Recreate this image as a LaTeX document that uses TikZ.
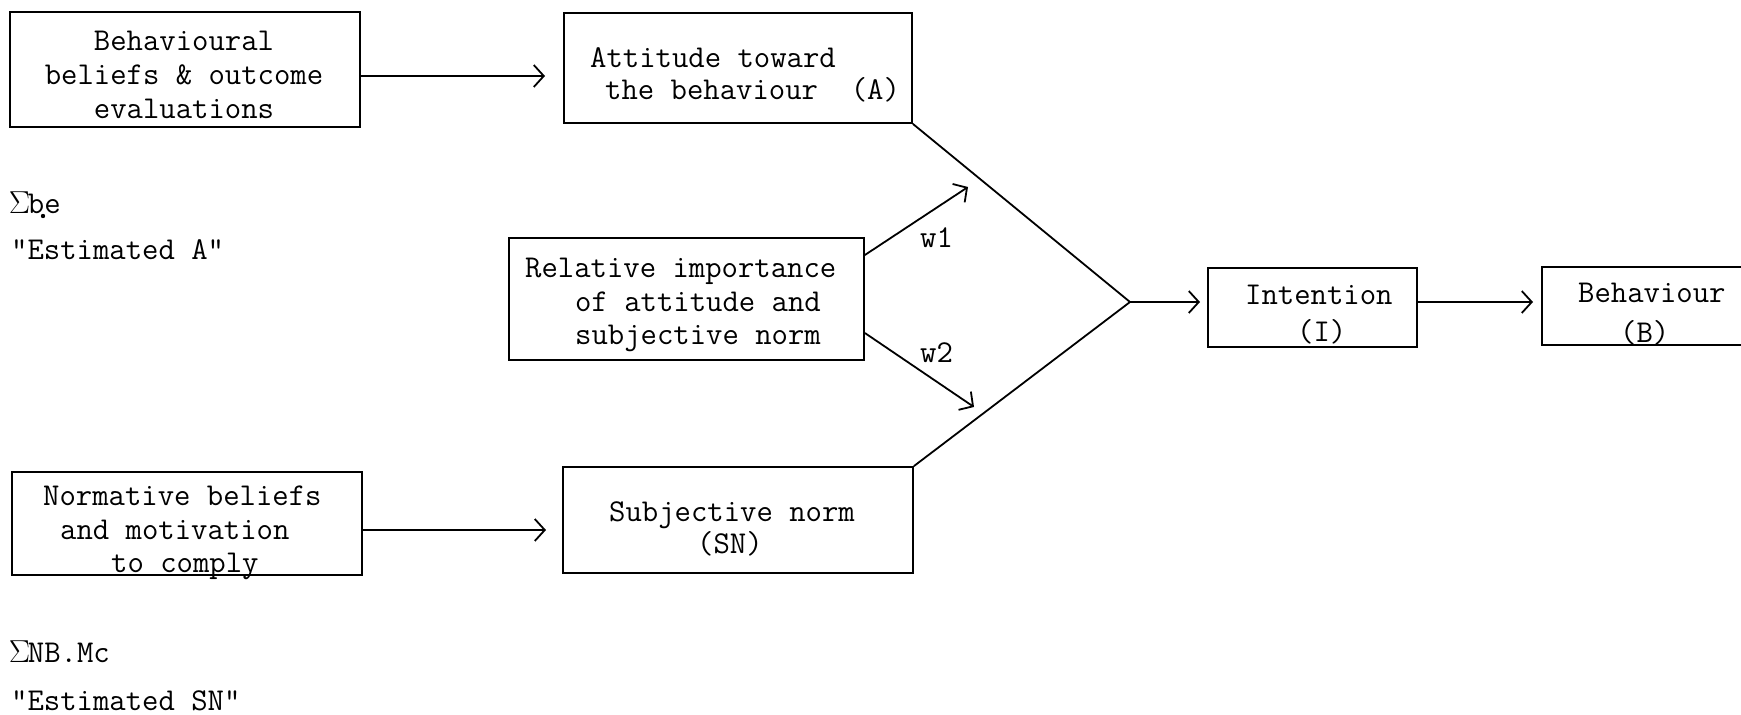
\RequirePackage{fix-cm}
\documentclass[tikz,border=0pt]{standalone}
\usetikzlibrary{arrows.meta}
\begin{document}
\begin{tikzpicture}[x=1pt,y=-1pt,
  box/.style={draw,line width=1.8pt,inner sep=0pt},
  txt/.style={font=\fontsize{31.8}{30}\selectfont\ttfamily,inner sep=0pt,anchor=base west},
  ctxt/.style={txt,anchor=base},
  conn/.style={line width=1.8pt},
  arr/.style={conn,-{Straight Barb[length=10pt,width=22pt]}}]
\useasboundingbox (0,0) rectangle (1741,715);
\clip (0,0) rectangle (1741,715);
% boxes
\node[box,minimum width=350pt,minimum height=115pt] (bb) at (185,69.5) {};
\node[box,minimum width=348pt,minimum height=110pt] (a) at (738,68) {};
\node[box,minimum width=355pt,minimum height=122pt] (rel) at (686.5,299) {};
\node[box,minimum width=350pt,minimum height=103pt] (nb) at (187,523.5) {};
\node[box,minimum width=350pt,minimum height=106pt] (sn) at (738,520) {};
\node[box,minimum width=209pt,minimum height=79pt] (int) at (1312.5,307.5) {};
\node[box,minimum width=228pt,minimum height=78pt] (beh) at (1656,306) {};
% texts in boxes
\node[ctxt] (bb1) at (184,50) {Behavioural};
\node[ctxt] (bb2) at (184,84) {beliefs \& outcome};
\node[ctxt] (bb3) at (184,118) {evaluations};
\node[txt] (a1) at (590,67) {Attitude toward};
\node[txt] (a2) at (605,99) {the behaviour\ \ (A)};
\node[txt] (rel1) at (525,277) {Relative importance};
\node[txt] (rel2) at (575,311) {of attitude and};
\node[txt] (rel3) at (575,344) {subjective norm};
\node[txt] (nb1) at (43,505) {Normative beliefs};
\node[txt] (nb2) at (60,539) {and motivation};
\node[txt] (nb3) at (111,572) {to comply};
\node[txt] (sn1) at (609,521) {Subjective norm};
\node[txt] (sn2) at (697,553) {(SN)};
\node[txt] (int1) at (1245,304) {Intention};
\node[txt] (int2) at (1297,341) {(I)};
\node[txt] (beh1) at (1578,302) {Behaviour};
\node[txt] (beh2) at (1620,342) {(B)};
% side texts
\node[txt] (sbe) at (11,213) {\makebox[0.525em]{$\Sigma$}be};
\fill ([xshift=32pt,yshift=-3pt]sbe.base west) circle (2.2pt);
\node[txt] (estA) at (11,259) {"Estimated A"};
\node[txt] (snb) at (11,662) {\makebox[0.525em]{$\Sigma$}NB.Mc};
\node[txt] (estSN) at (11,710) {"Estimated SN"};
\node[txt] (w1) at (920,247) {w1};
\node[txt] (w2) at (920,362) {w2};
% connector ends
\coordinate (aIn) at (545,76);
\coordinate (snIn) at (546,530);
\coordinate (j) at (1130,302);
\coordinate (intIn) at (1200,302);
\coordinate (behIn) at (1533,302);
\coordinate (w1tip) at (968,187);
\coordinate (w2tip) at (974,407);
% connectors
\draw[arr] (bb.east |- aIn) -- (aIn);
\draw[arr] (nb.east |- snIn) -- (snIn);
\draw[conn] (a.south east) -- (j);
\draw[conn] (sn.north east) -- (j);
\draw[arr] (j) -- (intIn);
\draw[arr] (int.east |- j) -- (behIn);
\draw[arr] (rel.east |- 0,255) -- (w1tip);
\draw[arr] (rel.east |- 0,333) -- (w2tip);
\end{tikzpicture}
\end{document}
